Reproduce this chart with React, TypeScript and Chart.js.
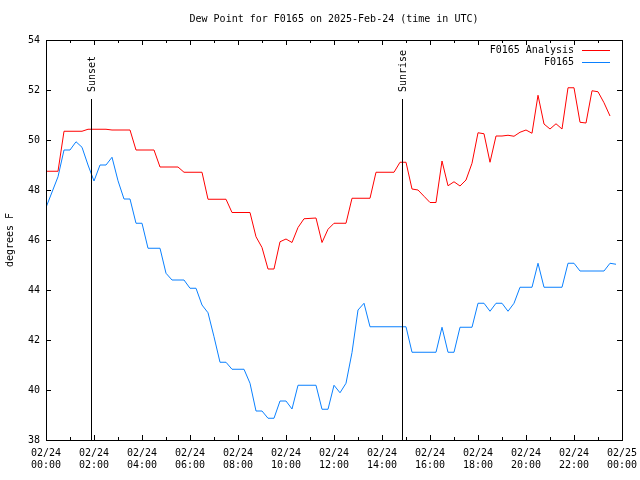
import { useEffect, useRef } from "react";
import { Chart, registerables } from "chart.js";

Chart.register(...registerables);

const TITLE = "Dew Point for F0165 on 2025-Feb-24 (time in UTC)";
const Y_LABEL = "degrees F";
const ANALYSIS_LABEL = "F0165 Analysis";
const OBS_LABEL = "F0165";
const ANALYSIS_COLOR = "#ff0000";
const OBS_COLOR = "#0a80ff";

const ANALYSIS_TIMES = [
  "00:00", "00:30", "00:45", "01:30", "01:45", "02:30", "02:45", "03:30", "03:45", "04:30",
  "04:45", "05:30", "05:45", "06:30", "06:45", "07:30", "07:45", "08:30", "08:45", "09:00",
  "09:15", "09:30", "09:45", "10:00", "10:15", "10:30", "10:45", "11:15", "11:30", "11:45",
  "12:00", "12:30", "12:45", "13:30", "13:45", "14:30", "14:45", "15:00", "15:15", "15:30",
  "15:45", "16:00", "16:15", "16:30", "16:45", "17:00", "17:15", "17:30", "17:45", "18:00",
  "18:15", "18:30", "18:45", "19:00", "19:15", "19:30", "19:45", "20:00", "20:15", "20:30",
  "20:45", "21:00", "21:15", "21:30", "21:45", "22:00", "22:15", "22:30", "22:45", "23:00",
  "23:15", "23:30",
];
const ANALYSIS_VALUES = [
  48.75, 48.75, 50.35, 50.35, 50.43, 50.43, 50.4, 50.4, 49.6, 49.6,
  48.92, 48.92, 48.71, 48.71, 47.63, 47.63, 47.1, 47.1, 46.13, 45.7,
  44.84, 44.84, 45.93, 46.04, 45.9, 46.5, 46.85, 46.88, 45.9, 46.43,
  46.67, 46.67, 47.67, 47.67, 48.71, 48.71, 49.11, 49.11, 48.04, 48.0,
  47.75, 47.5, 47.5, 49.16, 48.17, 48.33, 48.16, 48.4, 49.07, 50.29,
  50.25, 49.11, 50.16, 50.16, 50.19, 50.15, 50.31, 50.4, 50.27, 51.79,
  50.64, 50.44, 50.65, 50.44, 52.09, 52.09, 50.71, 50.68, 51.97, 51.93,
  51.49, 50.96,
];

const OBS_TIMES = [
  "00:00", "00:30", "00:45", "01:00", "01:15", "01:30", "01:45", "02:00", "02:15", "02:30",
  "02:45", "03:00", "03:15", "03:30", "03:45", "04:00", "04:15", "04:45", "05:00", "05:15",
  "05:45", "06:00", "06:15", "06:30", "06:45", "07:00", "07:15", "07:30", "07:45", "08:15",
  "08:30", "08:45", "09:00", "09:15", "09:30", "09:45", "10:00", "10:15", "10:30", "11:15",
  "11:30", "11:45", "12:00", "12:15", "12:30", "12:45", "13:00", "13:15", "13:30", "15:00",
  "15:15", "16:15", "16:30", "16:45", "17:00", "17:15", "17:45", "18:00", "18:15", "18:30",
  "18:45", "19:00", "19:15", "19:30", "19:45", "20:15", "20:30", "20:45", "21:30", "21:45",
  "22:00", "22:15", "23:15", "23:30", "23:45",
];
const OBS_VALUES = [
  47.3, 48.53, 49.6, 49.6, 49.93, 49.71, 49.0, 48.36, 49.0, 49.0,
  49.31, 48.37, 47.64, 47.64, 46.67, 46.67, 45.67, 45.67, 44.67, 44.4,
  44.4, 44.07, 44.07, 43.4, 43.09, 42.13, 41.11, 41.11, 40.83, 40.83,
  40.27, 39.16, 39.16, 38.87, 38.87, 39.56, 39.56, 39.24, 40.19, 40.19,
  39.23, 39.23, 40.19, 39.89, 40.27, 41.5, 43.2, 43.47, 42.53, 42.53,
  41.51, 41.51, 42.51, 41.51, 41.51, 42.51, 42.51, 43.47, 43.47, 43.15,
  43.47, 43.47, 43.15, 43.47, 44.11, 44.11, 45.07, 44.11, 44.11, 45.07,
  45.07, 44.76, 44.76, 45.07, 45.03,
];

const X_TICK_HOURS = [0, 2, 4, 6, 8, 10, 12, 14, 16, 18, 20, 22, 24];
const X_TICK_DATES = ["02/24", "02/24", "02/24", "02/24", "02/24", "02/24", "02/24", "02/24", "02/24", "02/24", "02/24", "02/24", "02/25"];
const X_TICK_TIMES = ["00:00", "02:00", "04:00", "06:00", "08:00", "10:00", "12:00", "14:00", "16:00", "18:00", "20:00", "22:00", "00:00"];
const X_MINOR_HOURS = [1, 3, 5, 7, 9, 11, 13, 15, 17, 19, 21, 23];
const Y_TICKS = [38, 40, 42, 44, 46, 48, 50, 52, 54];

const EVENT_LABELS = ["Sunset", "Sunrise"];
const EVENT_TIMES = ["01:53", "14:51"];

const FONT = "DejaVu Sans Mono";

function toHours(t: string): number {
  const [h, m] = t.split(":").map(Number);
  return h + m / 60;
}

const decorPlugin = {
  id: "gnuplotDecor",
  afterDraw(chart: any) {
    const { ctx, chartArea: a, scales } = chart;
    const x = scales.x;
    const y = scales.y;
    ctx.save();
    ctx.strokeStyle = "#000";
    ctx.lineWidth = 1;
    ctx.beginPath();
    for (const h of X_TICK_HOURS) {
      const px = Math.round(x.getPixelForValue(h)) + 0.5;
      ctx.moveTo(px, a.bottom);
      ctx.lineTo(px, a.bottom - 5);
      ctx.moveTo(px, a.top);
      ctx.lineTo(px, a.top + 5);
    }
    for (const h of X_MINOR_HOURS) {
      const px = Math.round(x.getPixelForValue(h)) + 0.5;
      ctx.moveTo(px, a.bottom);
      ctx.lineTo(px, a.bottom - 3);
      ctx.moveTo(px, a.top);
      ctx.lineTo(px, a.top + 3);
    }
    for (const v of Y_TICKS) {
      const py = Math.round(y.getPixelForValue(v)) + 0.5;
      ctx.moveTo(a.left, py);
      ctx.lineTo(a.left + 5, py);
      ctx.moveTo(a.right, py);
      ctx.lineTo(a.right - 5, py);
    }
    ctx.stroke();
    ctx.strokeRect(Math.round(a.left) + 0.5, Math.round(a.top) + 0.5, Math.round(a.right - a.left), Math.round(a.bottom - a.top));

    ctx.font = `10px "${FONT}"`;
    ctx.fillStyle = "#000";

    // Title, centred over the plot area
    ctx.textAlign = "center";
    ctx.textBaseline = "middle";
    ctx.fillText(TITLE, (a.left + a.right) / 2, 19);

    // Sunset / sunrise markers
    EVENT_TIMES.forEach((t, i) => {
      const px = Math.round(x.getPixelForValue(toHours(t))) + 0.5;
      ctx.beginPath();
      ctx.moveTo(px, a.bottom);
      ctx.lineTo(px, a.top + 59);
      ctx.stroke();
      ctx.save();
      ctx.translate(px + 1, a.top + 52);
      ctx.rotate(-Math.PI / 2);
      ctx.textAlign = "left";
      ctx.textBaseline = "middle";
      ctx.fillText(EVENT_LABELS[i], 0, 0);
      ctx.restore();
    });

    // Legend
    ctx.textAlign = "right";
    ctx.textBaseline = "middle";
    chart.data.datasets.forEach((ds: any, i: number) => {
      const ly = a.top + 10 + i * 12;
      ctx.fillStyle = "#000";
      ctx.fillText(ds.label, a.right - 48, ly);
      ctx.strokeStyle = ds.borderColor;
      ctx.beginPath();
      ctx.moveTo(a.right - 40, Math.round(ly) + 0.5);
      ctx.lineTo(a.right - 12, Math.round(ly) + 0.5);
      ctx.stroke();
    });
    ctx.restore();
  },
};

export default function App() {
  const canvasRef = useRef<HTMLCanvasElement | null>(null);

  useEffect(() => {
    const canvas = canvasRef.current;
    if (!canvas) return;
    Chart.defaults.color = "#000";
    Chart.defaults.font.family = FONT;
    Chart.defaults.font.size = 10;

    const chart = new Chart(canvas, {
      type: "line",
      data: {
        datasets: [
          {
            label: ANALYSIS_LABEL,
            data: ANALYSIS_TIMES.map((t, i) => ({ x: toHours(t), y: ANALYSIS_VALUES[i] })),
            borderColor: ANALYSIS_COLOR,
            borderWidth: 1,
            pointRadius: 0,
            tension: 0,
            fill: false,
          },
          {
            label: OBS_LABEL,
            data: OBS_TIMES.map((t, i) => ({ x: toHours(t), y: OBS_VALUES[i] })),
            borderColor: OBS_COLOR,
            borderWidth: 1,
            pointRadius: 0,
            tension: 0,
            fill: false,
          },
        ],
      },
      options: {
        animation: false,
        responsive: false,
        devicePixelRatio: 1,
        layout: { padding: { left: 0, right: 18, top: 40, bottom: 0 } },
        plugins: {
          legend: { display: false },
          tooltip: { enabled: false },
          title: { display: false },
        },
        scales: {
          x: {
            type: "linear",
            min: 0,
            max: 24,
            grid: { display: false, drawTicks: false },
            border: { display: false },
            afterBuildTicks: (scale: any) => {
              scale.ticks = X_TICK_HOURS.map((v) => ({ value: v }));
            },
            afterFit: (scale: any) => {
              scale.height = 40;
              scale.paddingLeft = 0;
              scale.paddingRight = 0;
            },
            ticks: {
              autoSkip: false,
              maxRotation: 0,
              minRotation: 0,
              padding: 7,
              font: { family: FONT, size: 10 },
              callback: (value: any) => {
                const i = X_TICK_HOURS.indexOf(Number(value));
                return i >= 0 ? [X_TICK_DATES[i], X_TICK_TIMES[i]] : "";
              },
            },
          },
          y: {
            type: "linear",
            min: 38,
            max: 54,
            grid: { display: false, drawTicks: false },
            border: { display: false },
            afterBuildTicks: (scale: any) => {
              scale.ticks = Y_TICKS.map((v) => ({ value: v }));
            },
            afterFit: (scale: any) => {
              scale.width = 46;
              scale.paddingTop = 0;
              scale.paddingBottom = 0;
            },
            ticks: {
              padding: 6,
              font: { family: FONT, size: 10 },
              callback: (value: any) => String(value),
            },
            title: {
              display: true,
              text: Y_LABEL,
              font: { family: FONT, size: 10 },
              padding: { top: 4, bottom: 0 },
            },
          },
        },
      },
      plugins: [decorPlugin],
    });
    return () => chart.destroy();
  }, []);

  return (
    <div style={{ position: "absolute", left: 0, top: 0, width: 640, height: 480, background: "#fff" }}>
      <canvas ref={canvasRef} width={640} height={480} />
    </div>
  );
}
